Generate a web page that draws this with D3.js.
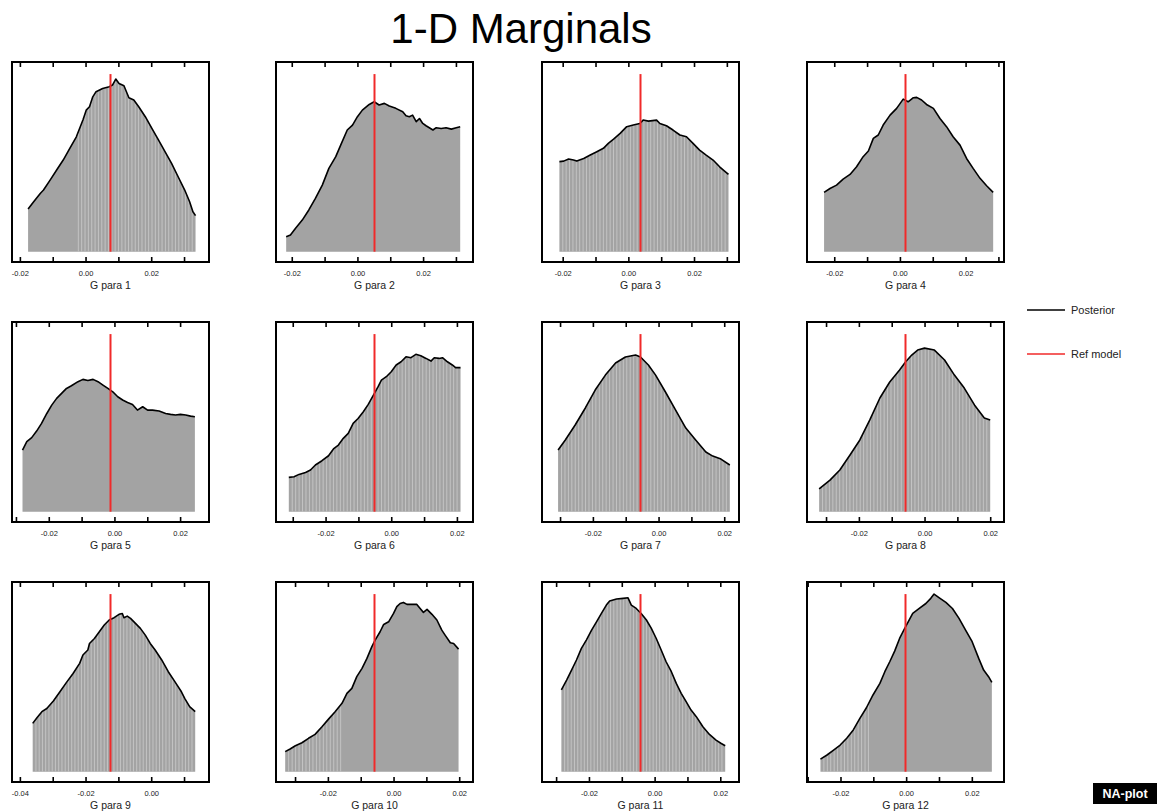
<!DOCTYPE html>
<html>
<head>
<meta charset="utf-8">
<script src="https://cdn.jsdelivr.net/npm/d3@7"></script>
<style>
  body { margin: 0; background: #fff; }
  text { font-family: "Liberation Sans", Arial, Helvetica, sans-serif; }
</style>
</head>
<body>
<svg id="chart" width="1158" height="812"></svg>
<script>
// ---- data -----------------------------------------------------------------
const paramNames = ["G para 1", "G para 2", "G para 3", "G para 4",
                    "G para 5", "G para 6", "G para 7", "G para 8",
                    "G para 9", "G para 10", "G para 11", "G para 12"];

// reference-model value of each parameter
const refModel = [0.0076, 0.0052, 0.0037, 0.0017,
                  -0.0012, -0.0051, -0.0055, -0.0058,
                  -0.0124, -0.0058, -0.0043, -0.0002];

// half-width of every x window around the reference value
const windowHalf = 0.03;

// posterior marginal densities, [parameter value, relative density]
const posterior1 = [[-0.0175,0.240],[-0.0158,0.281],[-0.0138,0.328],[-0.0128,0.347],[-0.0108,0.403],[-0.0088,0.460],[-0.0068,0.516],[-0.0048,0.582],[-0.0028,0.647],[-0.0008,0.741],[0.0002,0.797],[0.0012,0.816],[0.0022,0.872],[0.0032,0.901],[0.0052,0.919],[0.0072,0.929],[0.0082,0.938],[0.0092,0.972],[0.0102,0.947],[0.0117,0.934],[0.0132,0.867],[0.0147,0.854],[0.0162,0.816],[0.0182,0.760],[0.0202,0.694],[0.0222,0.629],[0.0242,0.563],[0.0262,0.497],[0.0282,0.422],[0.0302,0.347],[0.0317,0.281],[0.0327,0.225],[0.0335,0.203]];
const posterior2 = [[-0.0217,0.084],[-0.0204,0.094],[-0.0189,0.131],[-0.0168,0.178],[-0.0148,0.235],[-0.0128,0.300],[-0.0107,0.375],[-0.0087,0.469],[-0.0066,0.535],[-0.0051,0.600],[-0.0031,0.685],[-0.0015,0.713],[0.0000,0.760],[0.0015,0.797],[0.0036,0.829],[0.0051,0.844],[0.0066,0.826],[0.0082,0.835],[0.0097,0.820],[0.0117,0.807],[0.0138,0.788],[0.0148,0.765],[0.0158,0.760],[0.0168,0.769],[0.0179,0.732],[0.0189,0.750],[0.0199,0.722],[0.0209,0.709],[0.0230,0.685],[0.0240,0.698],[0.0255,0.694],[0.0270,0.698],[0.0286,0.690],[0.0301,0.698],[0.0313,0.704]];
const posterior3 = [[-0.0210,0.507],[-0.0197,0.510],[-0.0182,0.522],[-0.0167,0.516],[-0.0157,0.510],[-0.0136,0.525],[-0.0116,0.544],[-0.0096,0.563],[-0.0076,0.582],[-0.0061,0.610],[-0.0045,0.634],[-0.0025,0.666],[-0.0005,0.704],[0.0015,0.713],[0.0035,0.722],[0.0045,0.741],[0.0061,0.735],[0.0086,0.741],[0.0096,0.722],[0.0116,0.709],[0.0136,0.685],[0.0157,0.657],[0.0177,0.647],[0.0197,0.610],[0.0217,0.572],[0.0237,0.544],[0.0258,0.516],[0.0278,0.478],[0.0293,0.454],[0.0305,0.435]];
const posterior4 = [[-0.0231,0.334],[-0.0213,0.356],[-0.0193,0.375],[-0.0173,0.409],[-0.0152,0.435],[-0.0132,0.478],[-0.0112,0.535],[-0.0096,0.567],[-0.0081,0.638],[-0.0066,0.657],[-0.0051,0.713],[-0.0030,0.769],[-0.0010,0.807],[0.0010,0.859],[0.0025,0.844],[0.0041,0.867],[0.0051,0.869],[0.0066,0.854],[0.0081,0.829],[0.0102,0.807],[0.0122,0.750],[0.0142,0.704],[0.0162,0.647],[0.0183,0.600],[0.0203,0.525],[0.0223,0.469],[0.0244,0.413],[0.0264,0.371],[0.0284,0.334]];
const posterior5 = [[-0.0280,0.347],[-0.0267,0.394],[-0.0252,0.417],[-0.0237,0.454],[-0.0222,0.497],[-0.0206,0.553],[-0.0191,0.600],[-0.0176,0.638],[-0.0161,0.666],[-0.0146,0.694],[-0.0131,0.709],[-0.0111,0.732],[-0.0096,0.745],[-0.0081,0.739],[-0.0065,0.745],[-0.0050,0.732],[-0.0035,0.713],[-0.0020,0.694],[-0.0005,0.675],[0.0010,0.647],[0.0025,0.629],[0.0040,0.615],[0.0055,0.604],[0.0070,0.572],[0.0086,0.591],[0.0101,0.572],[0.0116,0.572],[0.0136,0.567],[0.0156,0.553],[0.0171,0.548],[0.0186,0.544],[0.0201,0.548],[0.0217,0.544],[0.0232,0.538],[0.0245,0.535]];
const posterior6 = [[-0.0312,0.193],[-0.0296,0.197],[-0.0281,0.210],[-0.0261,0.221],[-0.0246,0.235],[-0.0231,0.263],[-0.0211,0.287],[-0.0191,0.315],[-0.0176,0.353],[-0.0161,0.375],[-0.0146,0.413],[-0.0131,0.441],[-0.0116,0.497],[-0.0101,0.525],[-0.0085,0.563],[-0.0070,0.604],[-0.0053,0.660],[-0.0040,0.704],[-0.0030,0.741],[-0.0015,0.760],[0.0000,0.788],[0.0015,0.826],[0.0030,0.844],[0.0045,0.872],[0.0060,0.867],[0.0075,0.886],[0.0090,0.878],[0.0106,0.863],[0.0121,0.848],[0.0131,0.867],[0.0146,0.863],[0.0156,0.867],[0.0171,0.844],[0.0186,0.826],[0.0196,0.811],[0.0211,0.811]];
const posterior7 = [[-0.0306,0.347],[-0.0284,0.404],[-0.0254,0.488],[-0.0223,0.584],[-0.0193,0.685],[-0.0162,0.769],[-0.0131,0.837],[-0.0101,0.871],[-0.0070,0.882],[-0.0055,0.871],[-0.0031,0.826],[-0.0009,0.769],[0.0021,0.674],[0.0052,0.572],[0.0083,0.471],[0.0113,0.404],[0.0144,0.336],[0.0165,0.313],[0.0190,0.296],[0.0217,0.263]];
const posterior8 = [[-0.0321,0.128],[-0.0288,0.178],[-0.0258,0.235],[-0.0227,0.319],[-0.0197,0.404],[-0.0167,0.516],[-0.0136,0.640],[-0.0106,0.730],[-0.0076,0.798],[-0.0058,0.843],[-0.0039,0.882],[-0.0021,0.910],[0.0000,0.921],[0.0030,0.910],[0.0061,0.854],[0.0091,0.769],[0.0121,0.696],[0.0152,0.601],[0.0182,0.527],[0.0200,0.516]];
const posterior9 = [[-0.0361,0.272],[-0.0348,0.304],[-0.0333,0.338],[-0.0318,0.356],[-0.0298,0.398],[-0.0278,0.450],[-0.0258,0.503],[-0.0238,0.553],[-0.0218,0.610],[-0.0208,0.657],[-0.0193,0.685],[-0.0188,0.722],[-0.0173,0.750],[-0.0158,0.788],[-0.0143,0.826],[-0.0128,0.854],[-0.0113,0.867],[-0.0098,0.886],[-0.0088,0.891],[-0.0083,0.867],[-0.0073,0.876],[-0.0063,0.863],[-0.0048,0.835],[-0.0033,0.807],[-0.0018,0.769],[-0.0003,0.722],[0.0012,0.685],[0.0032,0.629],[0.0052,0.563],[0.0072,0.507],[0.0092,0.450],[0.0102,0.413],[0.0117,0.366],[0.0134,0.338]];
const posterior10 = [[-0.0330,0.113],[-0.0315,0.128],[-0.0299,0.146],[-0.0279,0.163],[-0.0259,0.188],[-0.0239,0.210],[-0.0218,0.253],[-0.0198,0.296],[-0.0178,0.338],[-0.0157,0.385],[-0.0142,0.441],[-0.0127,0.469],[-0.0112,0.535],[-0.0096,0.582],[-0.0081,0.638],[-0.0066,0.704],[-0.0056,0.741],[-0.0041,0.788],[-0.0030,0.829],[-0.0015,0.844],[0.0000,0.891],[0.0010,0.929],[0.0020,0.947],[0.0030,0.953],[0.0041,0.942],[0.0056,0.942],[0.0071,0.942],[0.0081,0.919],[0.0091,0.897],[0.0102,0.914],[0.0117,0.886],[0.0132,0.854],[0.0147,0.797],[0.0157,0.769],[0.0173,0.726],[0.0183,0.722],[0.0198,0.690]];
const posterior11 = [[-0.0284,0.460],[-0.0268,0.516],[-0.0253,0.572],[-0.0238,0.629],[-0.0223,0.694],[-0.0208,0.741],[-0.0192,0.797],[-0.0177,0.844],[-0.0162,0.891],[-0.0147,0.938],[-0.0137,0.961],[-0.0116,0.972],[-0.0096,0.976],[-0.0081,0.979],[-0.0071,0.938],[-0.0056,0.919],[-0.0041,0.891],[-0.0025,0.854],[-0.0010,0.807],[0.0005,0.750],[0.0020,0.685],[0.0035,0.619],[0.0051,0.563],[0.0066,0.497],[0.0081,0.441],[0.0096,0.394],[0.0111,0.347],[0.0127,0.310],[0.0147,0.253],[0.0167,0.210],[0.0187,0.178],[0.0203,0.159],[0.0215,0.146]];
const posterior12 = [[-0.0261,0.071],[-0.0241,0.094],[-0.0221,0.122],[-0.0201,0.150],[-0.0181,0.188],[-0.0161,0.235],[-0.0141,0.300],[-0.0121,0.360],[-0.0101,0.432],[-0.0080,0.497],[-0.0065,0.563],[-0.0050,0.619],[-0.0035,0.679],[-0.0020,0.750],[-0.0002,0.816],[0.0020,0.891],[0.0040,0.919],[0.0060,0.947],[0.0075,0.976],[0.0085,1.000],[0.0101,0.979],[0.0121,0.953],[0.0141,0.919],[0.0161,0.863],[0.0181,0.797],[0.0201,0.732],[0.0221,0.638],[0.0236,0.572],[0.0251,0.535],[0.0261,0.503]];

const posteriors = [posterior1, posterior2, posterior3, posterior4,
                    posterior5, posterior6, posterior7, posterior8,
                    posterior9, posterior10, posterior11, posterior12];

const legendLabels = ["Posterior", "Ref model"];

// ---- layout & style --------------------------------------------------------
const colLeft = [12, 276, 542, 807];
const rowTop = [62, 322, 582];
const panelW = 197, panelH = 200;
const fillColor = "#a3a3a3";
const refColor = "#f02a2a";
// rendering seams between the histogram strips (range in parameter units, null = none)
const seamSpans = [[-0.003, 1], null, [-1, 1], null,
                   null, [-1, 1], [-1, 1], [-1, 1],
                   [-1, 1], [-1, -0.0152], [-1, 1], [-1, -0.0111]];

const svg = d3.select("#chart");

svg.append("text")
  .attr("x", 521).attr("y", 43)
  .attr("text-anchor", "middle")
  .attr("font-size", 42)
  .attr("fill", "#000")
  .text("1-D Marginals");

const fmt = v => (Math.abs(v) < 1e-9 ? "0.00" : v.toFixed(2));

posteriors.forEach((pts, i) => {
  const col = i % 4, row = Math.floor(i / 4);
  const g = svg.append("g")
    .attr("transform", `translate(${colLeft[col]},${rowTop[row]})`);

  const xExt = d3.extent(pts, d => d[0]);
  const x = d3.scaleLinear()
    .domain([refModel[i] - windowHalf, refModel[i] + windowHalf])
    .range([0, panelW]);
  const y = d3.scaleLinear().domain([-0.058, 1.068]).range([panelH, 0]);

  const clipId = "clip" + i;
  const area = d3.area().x(d => x(d[0])).y0(y(0)).y1(d => y(d[1]));

  g.append("clipPath").attr("id", clipId)
    .append("path").attr("d", area(pts));

  g.append("path")
    .attr("d", area(pts))
    .attr("fill", fillColor);

  // faint seams between strips
  const span = seamSpans[i];
  if (span) {
    const nBins = 50;
    const w = (xExt[1] - xExt[0]) / nBins;
    const edges = d3.range(1, nBins).map(k => xExt[0] + k * w)
      .filter(v => v >= span[0] && v <= span[1]);
    g.append("g").attr("clip-path", `url(#${clipId})`)
      .selectAll("line").data(edges).join("line")
      .attr("x1", d => x(d)).attr("x2", d => x(d))
      .attr("y1", y(0)).attr("y2", 0)
      .attr("stroke", "#cbcbcb").attr("stroke-width", 0.8);
  }

  g.append("path")
    .attr("d", d3.line().x(d => x(d[0])).y(d => y(d[1]))(pts))
    .attr("fill", "none")
    .attr("stroke", "#000")
    .attr("stroke-width", 1.6)
    .attr("stroke-linejoin", "round");

  g.append("line")
    .attr("x1", x(refModel[i])).attr("x2", x(refModel[i]))
    .attr("y1", y(0)).attr("y2", y(1))
    .attr("stroke", refColor).attr("stroke-width", 2);

  // ticks every 0.01, labels every 0.02
  const dom = x.domain();
  const tickVals = d3.range(Math.ceil(dom[0] / 0.01 - 1e-9), Math.floor(dom[1] / 0.01 + 1e-9) + 1)
    .map(k => k * 0.01);

  const bottom = g.append("g")
    .attr("transform", `translate(0,${panelH})`)
    .call(d3.axisBottom(x).tickValues(tickVals).tickSize(-5).tickPadding(9)
      .tickFormat(v => (Math.round(v * 100) % 2 === 0 ? fmt(v) : "")));
  bottom.select(".domain").remove();
  bottom.selectAll("line").attr("stroke", "#000").attr("stroke-width", 1.6);
  bottom.selectAll("text").attr("font-size", 7.5).attr("fill", "#222")
    .attr("font-family", "'Liberation Sans', Arial, sans-serif");

  const top = g.append("g")
    .call(d3.axisTop(x).tickValues(tickVals).tickSize(-5).tickFormat(""));
  top.select(".domain").remove();
  top.selectAll("line").attr("stroke", "#000").attr("stroke-width", 1.6);

  g.append("rect")
    .attr("x", 0).attr("y", 0).attr("width", panelW).attr("height", panelH)
    .attr("fill", "none").attr("stroke", "#000").attr("stroke-width", 2);

  g.append("text")
    .attr("x", panelW / 2).attr("y", panelH + 27)
    .attr("text-anchor", "middle")
    .attr("font-size", 10.5)
    .attr("fill", "#222")
    .text(paramNames[i]);
});

// legend
const legend = svg.append("g").attr("transform", "translate(1027,310)");
[["#000", 0], [refColor, 44]].forEach(([c, dy], k) => {
  legend.append("line")
    .attr("x1", 0).attr("x2", 38).attr("y1", dy).attr("y2", dy)
    .attr("stroke", c).attr("stroke-width", 1.5);
  legend.append("text")
    .attr("x", 44).attr("y", dy + 4)
    .attr("font-size", 11).attr("fill", "#222")
    .text(legendLabels[k]);
});

// tag
svg.append("rect").attr("x", 1093).attr("y", 783).attr("width", 64).attr("height", 21).attr("fill", "#000");
svg.append("text")
  .attr("x", 1125).attr("y", 798)
  .attr("text-anchor", "middle")
  .attr("font-size", 12.5).attr("font-weight", "bold")
  .attr("fill", "#fff")
  .text("NA-plot");
</script>
</body>
</html>
